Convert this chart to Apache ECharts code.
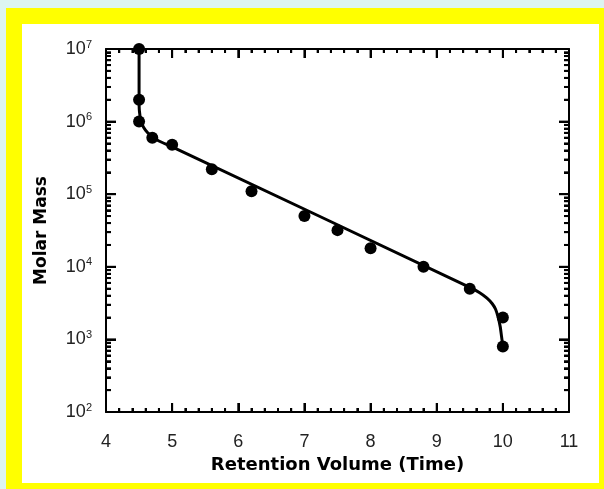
<!DOCTYPE html>
<html>
<head>
<meta charset="utf-8">
<script src="https://cdn.jsdelivr.net/npm/echarts@6/dist/echarts.min.js"></script>
<style>
  html, body { margin: 0; padding: 0; background: #ddf5f1; }
  #frame { position: absolute; left: 6px; top: 8px; width: 598px; height: 481px; background: #ffff00; }
  #inner { position: absolute; left: 22px; top: 24px; width: 577px; height: 459px; background: #ffffff; }
  #chart { position: absolute; left: 0; top: 0; width: 604px; height: 489px; }
</style>
</head>
<body>
<div id="frame"></div>
<div id="inner"></div>
<div id="chart"></div>
<script>
// Measured calibration points
const pointX = [4.5, 4.5, 4.5, 4.7, 5.0, 5.6, 6.2, 7.0, 7.5, 8.0, 8.8, 9.5, 10.0, 10.0];
const pointY = [1e7, 2e6, 1e6, 6e5, 4.8e5, 2.2e5, 1.1e5, 5e4, 3.2e4, 1.8e4, 1e4, 5e3, 2e3, 8e2];

// Fitted calibration curve
const curveX = [4.5, 4.5, 4.5, 4.505, 4.53, 4.57, 4.63, 4.7, 4.8, 5.0, 9.5, 9.65, 9.76, 9.84, 9.89, 9.93, 9.96, 9.98, 10.0];
const curveY = [1e7, 5e6, 2e6, 1.4e6, 1.0e6, 8.3e5, 7.0e5, 6.2e5, 5.4e5, 4.5e5, 5.2e3, 4.4e3, 3.7e3, 3.1e3, 2.6e3, 2.0e3, 1.5e3, 1.1e3, 8e2];

// Axis settings and tick labels
const xMin = 4, xMax = 11, xStep = 1;
const yMin = 1e2, yMax = 1e7;
const xTickLabels = ['4', '5', '6', '7', '8', '9', '10', '11'];
const xTitle = 'Retention Volume (Time)';
const yTitle = 'Molar Mass';

// tick positions on the frame (axis decoration)
const xMinorTicks = [];
for (let i = 0; i < (xMax - xMin) * 5; i++) { if (i % 5) xMinorTicks.push(xMin + i / 5); }
const yMajorTicks = [1e2, 1e3, 1e4, 1e5, 1e6, 1e7];
const yMinorTicks = [];
for (let d = yMin; d < yMax; d *= 10) { for (let k = 2; k <= 9; k++) yMinorTicks.push(k * d); }
const xMajorTicks = xTickLabels.map(Number);

const chart = echarts.init(document.getElementById('chart'), null, { renderer: 'canvas' });

const labelFont = 'Liberation Sans';
const titleFont = 'DejaVu Sans';
const ink = '#000';

function xAxisOf(pos, extra) {
  return Object.assign({
    type: 'value', min: xMin, max: xMax, interval: xStep, position: pos,
    axisLine: { show: true, onZero: false, lineStyle: { color: ink, width: 2 } },
    axisTick: { show: true, inside: true, length: 9, lineStyle: { color: ink, width: 2 } },
    minorTick: { show: true, splitNumber: 5, length: 4, lineStyle: { color: ink, width: 2 } },
    axisLabel: { show: false },
    splitLine: { show: false }
  }, extra || {});
}
function yAxisOf(pos, extra) {
  return Object.assign({
    type: 'log', logBase: 10, min: yMin, max: yMax, position: pos,
    axisLine: { show: true, onZero: false, lineStyle: { color: ink, width: 2 } },
    axisTick: { show: true, inside: true, length: 10, lineStyle: { color: ink, width: 2 } },
    minorTick: { show: true, splitNumber: 9, length: 5, lineStyle: { color: ink, width: 2 } },
    axisLabel: { show: false },
    splitLine: { show: false }
  }, extra || {});
}

// tick items: [x, y, length, orientation(0 = on x axes, 1 = on y axes)]
const tickItems = []
  .concat(xMajorTicks.map(v => [v, yMin, 9, 0]))
  .concat(xMinorTicks.map(v => [v, yMin, 4, 0]))
  .concat(yMajorTicks.map(v => [xMin, v, 10, 1]))
  .concat(yMinorTicks.map(v => [xMin, v, 5, 1]));

const option = {
  animation: false,
  backgroundColor: 'transparent',
  grid: { left: 106, top: 49, width: 463, height: 363, containLabel: false },
  xAxis: [
    xAxisOf('bottom', {
      name: xTitle, nameLocation: 'middle', nameGap: 42,
      nameTextStyle: { fontFamily: titleFont, fontWeight: 'bold', fontSize: 18, color: '#000' },
      axisLabel: { show: true, margin: 21, fontFamily: labelFont, fontSize: 18, color: '#222' }
    }),
    xAxisOf('top')
  ],
  yAxis: [
    yAxisOf('left', {
      name: yTitle, nameLocation: 'middle', nameGap: 56, nameRotate: 90,
      nameTextStyle: { fontFamily: titleFont, fontWeight: 'bold', fontSize: 17, color: '#000' },
      axisLabel: {
        show: true, margin: 14,
        formatter: function (v) {
          return '{b|10}{s|' + Math.round(Math.log10(v)) + '}';
        },
        rich: {
          b: { fontFamily: labelFont, fontSize: 18, color: '#222', lineHeight: 20 },
          s: { fontFamily: labelFont, fontSize: 11, color: '#222', verticalAlign: 'top', lineHeight: 20, padding: [0, 0, 10, 0] }
        }
      }
    }),
    yAxisOf('right')
  ],
  series: [
    {
      type: 'custom',
      xAxisIndex: 0, yAxisIndex: 0,
      silent: true, clip: false, z: 5,
      data: tickItems,
      renderItem: function (params, api) {
        const p = api.coord([api.value(0), api.value(1)]);
        const len = api.value(2);
        const cs = params.coordSys;
        const st = { stroke: ink, lineWidth: 2 };
        if (api.value(3) === 0) {
          const b = cs.y + cs.height, t = cs.y;
          return { type: 'group', children: [
            { type: 'line', shape: { x1: p[0], y1: b, x2: p[0], y2: b - len }, style: st },
            { type: 'line', shape: { x1: p[0], y1: t, x2: p[0], y2: t + len }, style: st }
          ] };
        }
        const l = cs.x, r = cs.x + cs.width;
        return { type: 'group', children: [
          { type: 'line', shape: { x1: l, y1: p[1], x2: l + len, y2: p[1] }, style: st },
          { type: 'line', shape: { x1: r, y1: p[1], x2: r - len, y2: p[1] }, style: st }
        ] };
      }
    },
    {
      type: 'line',
      xAxisIndex: 0, yAxisIndex: 0,
      data: curveX.map((x, i) => [x, curveY[i]]),
      showSymbol: false,
      smooth: 0.25,
      lineStyle: { color: '#000', width: 3 },
      silent: true
    },
    {
      type: 'scatter',
      xAxisIndex: 0, yAxisIndex: 0,
      data: pointX.map((x, i) => [x, pointY[i]]),
      symbol: 'circle',
      symbolSize: 12,
      itemStyle: { color: '#000', opacity: 1 },
      silent: true
    }
  ]
};
chart.setOption(option);
</script>
</body>
</html>
